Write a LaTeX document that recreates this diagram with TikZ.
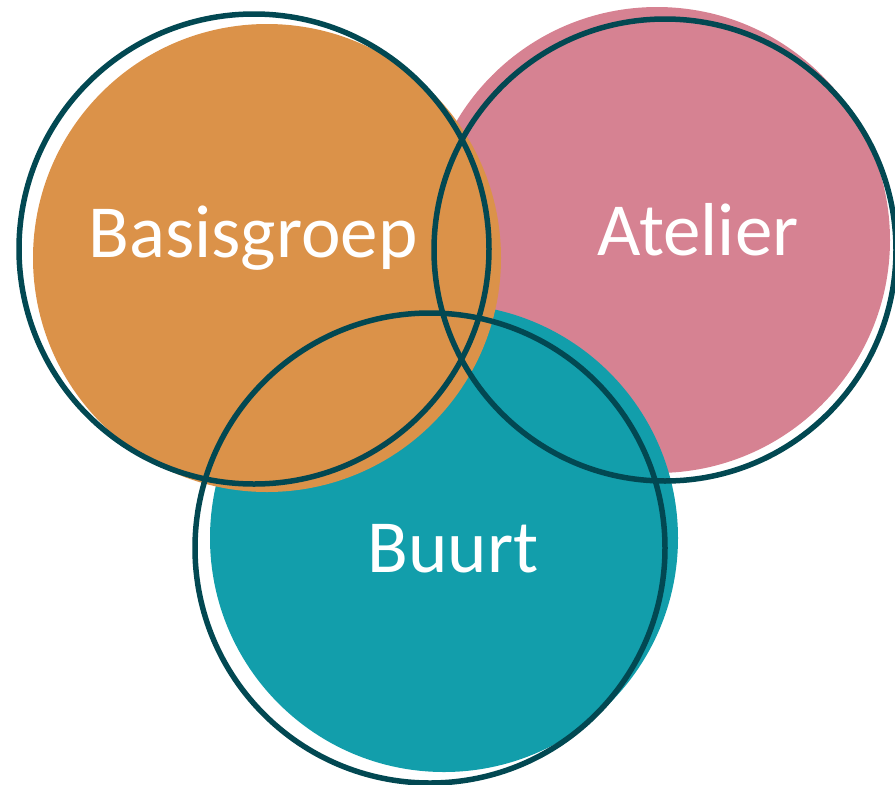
\documentclass[tikz,border=0pt]{standalone}
\usepackage{fontspec}
\setmainfont{Carlito}
\definecolor{cOrange}{RGB}{219,146,73}
\definecolor{cPink}{RGB}{214,130,146}
\definecolor{cTeal}{RGB}{18,158,171}
\definecolor{cDark}{RGB}{2,72,82}
\tikzset{
  ring/.style={draw=cDark, line width=5.5pt},
  lbl/.style={text=white, font=\fontsize{75}{80}\selectfont, anchor=base, inner sep=0pt}
}
\begin{document}
\begin{tikzpicture}[x=1pt,y=-1pt]
\useasboundingbox (0,0) rectangle (895,785);
% fills
\fill[cPink] (657,240) circle[radius=233];
\fill[cTeal] (444,538) circle[radius=234];
\fill[cOrange] (267,258) circle[radius=234];
% rings
\draw[ring] (254,249) circle[radius=235];
\draw[ring] (665,250) circle[radius=231];
\draw[ring] (430,548) circle[radius=235];
% labels
\node[lbl] (basis) at (253,257) {Basisgroep};
\node[lbl] (atelier) at (698,255) {Atelier};
\node[lbl] (buurt) at (453,572) {Buurt};
\end{tikzpicture}
\end{document}
